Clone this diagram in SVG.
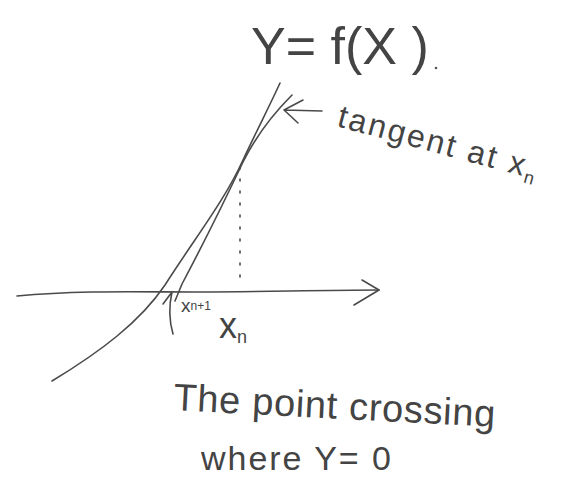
<svg xmlns="http://www.w3.org/2000/svg" width="564" height="477" viewBox="0 0 564 477">
<style>
.ln{fill:none;stroke:#4a4a4a;stroke-width:1.6;stroke-linecap:round;stroke-linejoin:round}
.t{font-family:"Liberation Sans",Arial,sans-serif;fill:#444}
</style>
<rect width="564" height="477" fill="#fff"/>
<g id="connectors">
<path class="ln" d="M17,296 C80,290 140,292 200,292 C260,292 320,290 379,290"/>
<path class="ln" d="M362,280 L379,290 L354,305"/>
<path class="ln" d="M52,381 C100,352 140,322 165,285 C195,238 225,200 243,160 C258,128 270,105 280,83"/>
<path class="ln" d="M175,301 L182,284 C200,250 225,200 243,162 C258,132 275,112 292,95"/>
<path class="ln" d="M240,167 L240,279" stroke-dasharray="2 10"/>
<path class="ln" d="M322,111 L284,110 M303,100 L284,110 L298,123"/>
<path class="ln" d="M163,304 L172,292 C169,305 169,320 173,334"/>
</g>
<g id="title"><text class="t" x="251" y="64" font-size="52">Y= f(X )</text><circle cx="436" cy="68" r="1.3" fill="#555"/></g>
<g id="tangent-label"><text class="t" x="336" y="126" font-size="32" textLength="205" transform="rotate(15 336 126)">tangent at x<tspan font-size="18" dy="6">n</tspan></text></g>
<g id="xn1"><text class="t" x="181" y="312" font-size="19">x<tspan font-size="12" dy="-2">n+1</tspan></text></g>
<g id="xn"><text class="t" x="219" y="338" font-size="36">x<tspan font-size="18" dy="5">n</tspan></text></g>
<g id="caption">
<text class="t" x="173" y="410" font-size="38" textLength="322" transform="rotate(3 173 410)">The point crossing</text>
<text class="t" x="201" y="470" font-size="34" textLength="190">where Y= 0</text>
</g>
</svg>
